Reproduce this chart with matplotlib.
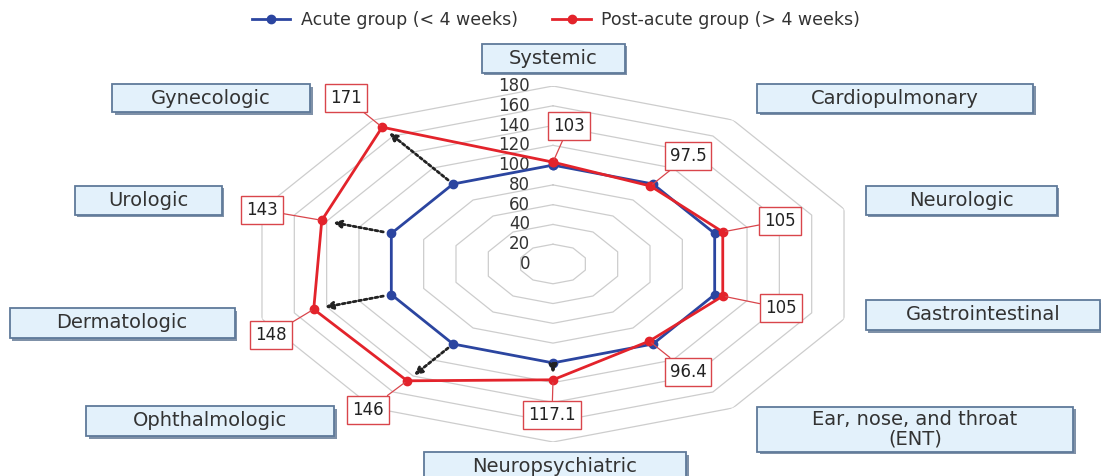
import numpy as np
import matplotlib
matplotlib.use("Agg")
import matplotlib.pyplot as plt
from matplotlib.patches import Rectangle

# ---------------- data ----------------
categories = ["Systemic", "Cardiopulmonary", "Neurologic", "Gastrointestinal",
              "Ear, nose, and throat\n(ENT)", "Neuropsychiatric", "Ophthalmologic",
              "Dermatologic", "Urologic", "Gynecologic"]
acute = [100, 100, 100, 100, 100, 100, 100, 100, 100, 100]
post_acute = [103, 97.5, 105, 105, 96.4, 117.1, 146, 148, 143, 171]
value_labels = ["103", "97.5", "105", "105", "96.4", "117.1", "146", "148", "143", "171"]
radial_ticks = [0, 20, 40, 60, 80, 100, 120, 140, 160, 180]
arrow_categories = ["Neuropsychiatric", "Ophthalmologic", "Dermatologic", "Urologic", "Gynecologic"]
series_names = ["Acute group (< 4 weeks)", "Post-acute group (> 4 weeks)"]

# ---------------- layout (image pixels) ----------------
W, H = 1101, 476
# category label boxes: center x, center y, width, height
label_boxes = [(553, 58, 143, 29), (895, 98, 276, 29), (961, 200, 191, 29),
               (983, 315, 234, 30), (915, 429, 316, 45), (555, 467, 262, 30),
               (210, 421, 248, 30), (122, 323, 225, 30), (148, 200, 147, 29),
               (211, 98, 198, 28)]
# value callout box centers
value_boxes = [(569, 126), (688, 156), (780, 221), (781, 308), (688, 372),
               (552, 415), (368, 410), (271, 335), (262, 210), (346, 98)]

BLUE = "#2b45a0"
RED = "#e3232b"
BOX_RED = "#d9454b"
GRID = "#cdcdcd"

fig = plt.figure(figsize=(W / 100, H / 100), dpi=100)
cx0, cy0, rx, ry = 553, 264, 306, 178
ax = fig.add_axes([(cx0 - rx) / W, (H - cy0 - ry) / H, 2 * rx / W, 2 * ry / H],
                  projection="polar")
ax.set_aspect("auto")
ax.set_theta_offset(np.pi / 2)
ax.set_theta_direction(-1)
ax.set_ylim(0, 180)
ax.grid(False)
ax.set_xticks([])
ax.set_yticks([])
ax.spines["polar"].set_visible(False)
ax.patch.set_visible(False)

n = len(categories)
theta = np.linspace(0, 2 * np.pi, n, endpoint=False)
theta_c = np.append(theta, theta[0])

# polygon grid
for r in radial_ticks[1:]:
    ax.plot(theta_c, [r] * (n + 1), color=GRID, lw=0.9, zorder=1)

# radial tick labels
for r in radial_ticks:
    ax.annotate(str(r), xy=(0, r), xytext=(-23, 0), textcoords="offset pixels",
                ha="right", va="center", fontsize=12, color="#333333", zorder=2)

# series
l1, = ax.plot(theta_c, acute + acute[:1], color=BLUE, lw=2, marker="o", ms=6,
              label=series_names[0], zorder=3)
l2, = ax.plot(theta_c, post_acute + post_acute[:1], color=RED, lw=2, marker="o", ms=6,
              label=series_names[1], zorder=4)

# dotted arrows from acute to post-acute
for name in arrow_categories:
    i = categories.index(name)
    ax.annotate("", xy=(theta[i], post_acute[i] - 7), xytext=(theta[i], acute[i] + 5),
                arrowprops=dict(arrowstyle="-|>,head_length=0.45,head_width=0.22",
                                linestyle=(0, (1, 1)), lw=2, color="#222222",
                                shrinkA=0, shrinkB=0), zorder=5)

# value callouts
for i, (bx, by) in enumerate(value_boxes):
    ax.annotate(value_labels[i], xy=(theta[i], post_acute[i]), xytext=(bx, H - by),
                textcoords="figure pixels", ha="center", va="center", fontsize=12,
                color="#222222", zorder=6,
                bbox=dict(boxstyle="square,pad=0.3", fc="white", ec=BOX_RED, lw=1),
                arrowprops=dict(arrowstyle="-", color=BOX_RED, lw=0.9,
                                shrinkA=0, shrinkB=2))

# category label boxes
for name, (bx, by, bw, bh) in zip(categories, label_boxes):
    x0 = (bx - bw / 2) / W
    y0 = (H - by - bh / 2) / H
    fig.add_artist(Rectangle((x0 + 2.5 / W, y0 - 2.5 / H), bw / W, bh / H,
                             transform=fig.transFigure, fc="#7f91a8", ec="none", zorder=1))
    fig.add_artist(Rectangle((x0, y0), bw / W, bh / H, transform=fig.transFigure,
                             fc="#e3f1fb", ec="#5f7a9a", lw=1.3, zorder=2))
    fig.text(bx / W, (H - by) / H, name, ha="center", va="center", fontsize=14,
             color="#333333", zorder=3, linespacing=1.05)

fig.legend(handles=[l1, l2], loc="upper center", bbox_to_anchor=(556 / W, 1.01),
           ncol=2, frameon=False, fontsize=12.5, handlelength=2.2, columnspacing=2.0,
           handletextpad=0.6, labelcolor="#333333")

fig.savefig("out.png", dpi=100, facecolor="white")
